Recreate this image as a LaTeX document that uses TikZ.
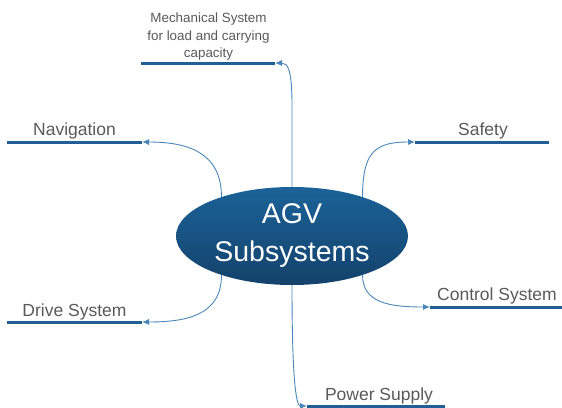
\documentclass[tikz,border=0pt]{standalone}
\usepackage{fontspec}
\setmainfont{Liberation Sans}
\usetikzlibrary{shapes.geometric,arrows.meta}
\definecolor{agvblue}{HTML}{1F5F94}
\definecolor{agvtop}{HTML}{1B6298}
\definecolor{agvbottom}{HTML}{14426B}
\definecolor{linkblue}{HTML}{4A86BA}
\definecolor{labelgray}{HTML}{595959}
\begin{document}
\begin{tikzpicture}[x=1pt,y=-1pt,
  hub/.style={ellipse,minimum width=232pt,minimum height=98pt,inner sep=0pt,
    top color=agvtop,bottom color=agvbottom,draw=none,text=white,align=center,
    font=\fontsize{28.5}{38}\selectfont},
  bar/.style={draw=agvblue,line width=3pt},
  link/.style={draw=linkblue,line width=0.9pt,-{Latex[length=7pt,width=6pt]}},
  sub/.style={anchor=base,text=labelgray,inner sep=0pt,font=\fontsize{17.5}{21}\selectfont}]
\useasboundingbox (0,0) rectangle (562,407);
\node[hub] (hub) at (292,236) {AGV\\Subsystems};
% label texts
\node[sub,anchor=south,align=center,font=\fontsize{13.4}{17.5}\selectfont] (mech) at (208.5,60.5) {Mechanical System\\for load and carrying\\capacity};
\node[sub] (nav) at (74.5,135.5) {Navigation};
\node[sub] (drive) at (74.5,316) {Drive System};
\node[sub] (safe) at (483,135.5) {Safety};
\node[sub] (ctrl) at (497,300.5) {Control System};
\node[sub] (pow) at (379,400) {Power Supply};
% bar ends
\coordinate (mech-in) at (275,63);  \coordinate (mech-out) at (141,63);
\coordinate (nav-in) at (142,142);  \coordinate (nav-out) at (7,142);
\coordinate (drive-in) at (142,322); \coordinate (drive-out) at (7,322);
\coordinate (safe-in) at (415,142); \coordinate (safe-out) at (549,142);
\coordinate (ctrl-in) at (430,307); \coordinate (ctrl-out) at (562,307);
\coordinate (pow-in) at (307,406);  \coordinate (pow-out) at (445,406);
\foreach \s in {mech,nav,drive,safe,ctrl,pow}
  \draw[bar] (\s-in) -- (\s-out);
% connectors
\draw[link] (hub.north) -- (292,105) .. controls (292,70) and (288,63) .. (mech-in);
\draw[link] (hub.151) .. controls +(0,-45) and +(45,0) .. (nav-in);
\draw[link] (hub.209) .. controls +(0,40) and +(45,0) .. (drive-in);
\draw[link] (hub.29) .. controls +(0,-45) and +(-40,0) .. (safe-in);
\draw[link] (hub.331) .. controls +(0,28) and +(-40,0) .. (ctrl-in);
\draw[link] (hub.south) .. controls +(0,105) and +(-10,0) .. (pow-in);
\end{tikzpicture}
\end{document}
